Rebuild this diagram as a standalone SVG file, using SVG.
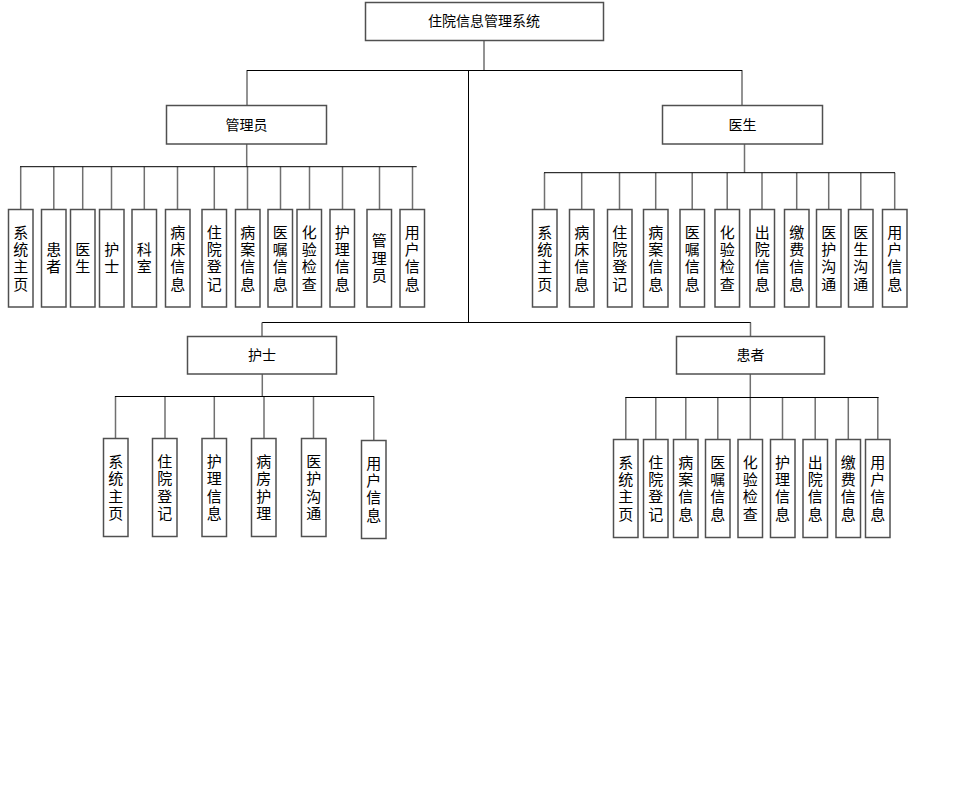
<svg xmlns="http://www.w3.org/2000/svg" width="956" height="785" viewBox="0 0 956 785">
<style>
.box{fill:#fff;stroke:#505050;stroke-width:1.5}
.bus{stroke:#000;stroke-width:1;fill:none}
.drop{stroke:#707070;stroke-width:1.5;fill:none}
text{font-family:"Liberation Sans","Noto Sans CJK SC",sans-serif;fill:#000;text-anchor:middle}
.h{font-size:14px}
.v{font-size:15px}
</style>
<rect width="956" height="785" fill="#fff"/>
<g id="connectors">
<path class="drop" d="M484 40V70M247 70V105M742 70V105"/>
<path class="bus" d="M247 70.5H742M468.5 70V322"/>
<path class="drop" d="M246.7 144V166.7M20.7 166.7V209M53.8 166.7V209M82.7 166.7V209M111.5 166.7V209M144.3 166.7V209M177.5 166.7V209M214.3 166.7V209M247.5 166.7V209M280.5 166.7V209M309.5 166.7V209M342.5 166.7V209M379.5 166.7V209M412.5 166.7V209"/>
<path class="bus" d="M20 166.7H416.7"/>
<path class="drop" d="M744.5 144V172.7M544.5 172.7V209M581.7 172.7V209M619.5 172.7V209M655.7 172.7V209M692.2 172.7V209M727.2 172.7V209M762 172.7V209M796.7 172.7V209M828.7 172.7V209M860.8 172.7V209M894.7 172.7V209"/>
<path class="bus" d="M544 172.7H895"/>
<path class="bus" d="M262 322.5H751"/>
<path class="drop" d="M262 322.5V336M750.5 322.5V336"/>
<path class="drop" d="M262.3 374V396M115.5 396V438M165 396V438M214.3 396V438M264 396V438M313.5 396V438M373.8 396V440"/>
<path class="bus" d="M115 396.5H374"/>
<path class="drop" d="M750.3 374V397M625.8 397V439M655.8 397V439M685.8 397V439M717.8 397V439M750.3 397V439M782.5 397V439M815.2 397V439M848.3 397V439M877.8 397V439"/>
<path class="bus" d="M625.5 397.5H878.5"/>
</g>
<g id="root"><rect class="box" x="365.5" y="2.5" width="238" height="38"/><text class="h" x="484" y="26">住院信息管理系统</text></g>
<g id="admin"><rect class="box" x="166.5" y="105.5" width="160" height="38.5"/><text class="h" x="246.5" y="130">管理员</text></g>
<g id="doctor"><rect class="box" x="662.5" y="105.5" width="160" height="38.5"/><text class="h" x="742.5" y="130">医生</text></g>
<g id="nurse"><rect class="box" x="187.5" y="336.5" width="149" height="37.5"/><text class="h" x="262" y="360">护士</text></g>
<g id="patient"><rect class="box" x="676.5" y="336.5" width="148" height="37.5"/><text class="h" x="750.5" y="360">患者</text></g>

<g id="a1"><rect class="box" x="8.5" y="209.5" width="24.5" height="97.5"/><text class="v"><tspan x="20.7" y="237.5">系</tspan><tspan x="20.7" y="255">统</tspan><tspan x="20.7" y="272.2">主</tspan><tspan x="20.7" y="289.5">页</tspan></text></g>
<g id="a2"><rect class="box" x="41.5" y="209.5" width="24.5" height="97.5"/><text class="v"><tspan x="53.8" y="255">患</tspan><tspan x="53.8" y="272.2">者</tspan></text></g>
<g id="a3"><rect class="box" x="70.5" y="209.5" width="24.5" height="97.5"/><text class="v"><tspan x="82.7" y="255">医</tspan><tspan x="82.7" y="272.2">生</tspan></text></g>
<g id="a4"><rect class="box" x="99.5" y="209.5" width="24.5" height="97.5"/><text class="v"><tspan x="111.7" y="255">护</tspan><tspan x="111.7" y="272.2">士</tspan></text></g>
<g id="a5"><rect class="box" x="132" y="209.5" width="24.5" height="97.5"/><text class="v"><tspan x="144.3" y="255">科</tspan><tspan x="144.3" y="272.2">室</tspan></text></g>
<g id="a6"><rect class="box" x="165.5" y="209.5" width="24.5" height="97.5"/><text class="v"><tspan x="177.7" y="237.5">病</tspan><tspan x="177.7" y="255">床</tspan><tspan x="177.7" y="272.2">信</tspan><tspan x="177.7" y="289.5">息</tspan></text></g>
<g id="a7"><rect class="box" x="202" y="209.5" width="24.5" height="97.5"/><text class="v"><tspan x="214.3" y="237.5">住</tspan><tspan x="214.3" y="255">院</tspan><tspan x="214.3" y="272.2">登</tspan><tspan x="214.3" y="289.5">记</tspan></text></g>
<g id="a8"><rect class="box" x="235.5" y="209.5" width="24.5" height="97.5"/><text class="v"><tspan x="247.7" y="237.5">病</tspan><tspan x="247.7" y="255">案</tspan><tspan x="247.7" y="272.2">信</tspan><tspan x="247.7" y="289.5">息</tspan></text></g>
<g id="a9"><rect class="box" x="268" y="209.5" width="24.5" height="97.5"/><text class="v"><tspan x="280.3" y="237.5">医</tspan><tspan x="280.3" y="255">嘱</tspan><tspan x="280.3" y="272.2">信</tspan><tspan x="280.3" y="289.5">息</tspan></text></g>
<g id="a10"><rect class="box" x="297" y="209.5" width="24.5" height="97.5"/><text class="v"><tspan x="309.3" y="237.5">化</tspan><tspan x="309.3" y="255">验</tspan><tspan x="309.3" y="272.2">检</tspan><tspan x="309.3" y="289.5">查</tspan></text></g>
<g id="a11"><rect class="box" x="330" y="209.5" width="24.5" height="97.5"/><text class="v"><tspan x="342.3" y="237.5">护</tspan><tspan x="342.3" y="255">理</tspan><tspan x="342.3" y="272.2">信</tspan><tspan x="342.3" y="289.5">息</tspan></text></g>
<g id="a12"><rect class="box" x="367" y="209.5" width="24.5" height="97.5"/><text class="v"><tspan x="379.3" y="246.2">管</tspan><tspan x="379.3" y="263.5">理</tspan><tspan x="379.3" y="280.8">员</tspan></text></g>
<g id="a13"><rect class="box" x="400" y="209.5" width="24.5" height="97.5"/><text class="v"><tspan x="412.3" y="237.5">用</tspan><tspan x="412.3" y="255">户</tspan><tspan x="412.3" y="272.2">信</tspan><tspan x="412.3" y="289.5">息</tspan></text></g>

<g id="d1"><rect class="box" x="532.5" y="209.5" width="24.5" height="97.5"/><text class="v"><tspan x="544.7" y="237.5">系</tspan><tspan x="544.7" y="255">统</tspan><tspan x="544.7" y="272.2">主</tspan><tspan x="544.7" y="289.5">页</tspan></text></g>
<g id="d2"><rect class="box" x="569.5" y="209.5" width="24.5" height="97.5"/><text class="v"><tspan x="581.7" y="237.5">病</tspan><tspan x="581.7" y="255">床</tspan><tspan x="581.7" y="272.2">信</tspan><tspan x="581.7" y="289.5">息</tspan></text></g>
<g id="d3"><rect class="box" x="607.5" y="209.5" width="24.5" height="97.5"/><text class="v"><tspan x="619.7" y="237.5">住</tspan><tspan x="619.7" y="255">院</tspan><tspan x="619.7" y="272.2">登</tspan><tspan x="619.7" y="289.5">记</tspan></text></g>
<g id="d4"><rect class="box" x="643.5" y="209.5" width="24.5" height="97.5"/><text class="v"><tspan x="655.7" y="237.5">病</tspan><tspan x="655.7" y="255">案</tspan><tspan x="655.7" y="272.2">信</tspan><tspan x="655.7" y="289.5">息</tspan></text></g>
<g id="d5"><rect class="box" x="680" y="209.5" width="24.5" height="97.5"/><text class="v"><tspan x="692.2" y="237.5">医</tspan><tspan x="692.2" y="255">嘱</tspan><tspan x="692.2" y="272.2">信</tspan><tspan x="692.2" y="289.5">息</tspan></text></g>
<g id="d6"><rect class="box" x="715" y="209.5" width="24.5" height="97.5"/><text class="v"><tspan x="727.2" y="237.5">化</tspan><tspan x="727.2" y="255">验</tspan><tspan x="727.2" y="272.2">检</tspan><tspan x="727.2" y="289.5">查</tspan></text></g>
<g id="d7"><rect class="box" x="750" y="209.5" width="24.5" height="97.5"/><text class="v"><tspan x="762.2" y="237.5">出</tspan><tspan x="762.2" y="255">院</tspan><tspan x="762.2" y="272.2">信</tspan><tspan x="762.2" y="289.5">息</tspan></text></g>
<g id="d8"><rect class="box" x="784.5" y="209.5" width="24.5" height="97.5"/><text class="v"><tspan x="796.7" y="237.5">缴</tspan><tspan x="796.7" y="255">费</tspan><tspan x="796.7" y="272.2">信</tspan><tspan x="796.7" y="289.5">息</tspan></text></g>
<g id="d9"><rect class="box" x="816.5" y="209.5" width="24.5" height="97.5"/><text class="v"><tspan x="828.7" y="237.5">医</tspan><tspan x="828.7" y="255">护</tspan><tspan x="828.7" y="272.2">沟</tspan><tspan x="828.7" y="289.5">通</tspan></text></g>
<g id="d10"><rect class="box" x="848.5" y="209.5" width="24.5" height="97.5"/><text class="v"><tspan x="860.8" y="237.5">医</tspan><tspan x="860.8" y="255">生</tspan><tspan x="860.8" y="272.2">沟</tspan><tspan x="860.8" y="289.5">通</tspan></text></g>
<g id="d11"><rect class="box" x="882.5" y="209.5" width="24.5" height="97.5"/><text class="v"><tspan x="894.7" y="237.5">用</tspan><tspan x="894.7" y="255">户</tspan><tspan x="894.7" y="272.2">信</tspan><tspan x="894.7" y="289.5">息</tspan></text></g>

<g id="n1"><rect class="box" x="103.5" y="438.5" width="24.5" height="98"/><text class="v"><tspan x="115.7" y="467">系</tspan><tspan x="115.7" y="484.3">统</tspan><tspan x="115.7" y="501.7">主</tspan><tspan x="115.7" y="519">页</tspan></text></g>
<g id="n2"><rect class="box" x="152.5" y="438.5" width="24.5" height="98"/><text class="v"><tspan x="164.8" y="467">住</tspan><tspan x="164.8" y="484.3">院</tspan><tspan x="164.8" y="501.7">登</tspan><tspan x="164.8" y="519">记</tspan></text></g>
<g id="n3"><rect class="box" x="202" y="438.5" width="24.5" height="98"/><text class="v"><tspan x="214.3" y="467">护</tspan><tspan x="214.3" y="484.3">理</tspan><tspan x="214.3" y="501.7">信</tspan><tspan x="214.3" y="519">息</tspan></text></g>
<g id="n4"><rect class="box" x="251.5" y="438.5" width="24.5" height="98"/><text class="v"><tspan x="263.8" y="467">病</tspan><tspan x="263.8" y="484.3">房</tspan><tspan x="263.8" y="501.7">护</tspan><tspan x="263.8" y="519">理</tspan></text></g>
<g id="n5"><rect class="box" x="301.5" y="438.5" width="24.5" height="98"/><text class="v"><tspan x="313.7" y="467">医</tspan><tspan x="313.7" y="484.3">护</tspan><tspan x="313.7" y="501.7">沟</tspan><tspan x="313.7" y="519">通</tspan></text></g>
<g id="n6"><rect class="box" x="361.5" y="440.5" width="24.5" height="98"/><text class="v"><tspan x="373.8" y="468.5">用</tspan><tspan x="373.8" y="485.8">户</tspan><tspan x="373.8" y="503.2">信</tspan><tspan x="373.8" y="520.5">息</tspan></text></g>

<g id="p1"><rect class="box" x="613.5" y="439.5" width="24.5" height="98"/><text class="v"><tspan x="625.8" y="467.5">系</tspan><tspan x="625.8" y="484.8">统</tspan><tspan x="625.8" y="502.2">主</tspan><tspan x="625.8" y="519.5">页</tspan></text></g>
<g id="p2"><rect class="box" x="643.5" y="439.5" width="24.5" height="98"/><text class="v"><tspan x="655.8" y="467.5">住</tspan><tspan x="655.8" y="484.8">院</tspan><tspan x="655.8" y="502.2">登</tspan><tspan x="655.8" y="519.5">记</tspan></text></g>
<g id="p3"><rect class="box" x="673.5" y="439.5" width="24.5" height="98"/><text class="v"><tspan x="685.8" y="467.5">病</tspan><tspan x="685.8" y="484.8">案</tspan><tspan x="685.8" y="502.2">信</tspan><tspan x="685.8" y="519.5">息</tspan></text></g>
<g id="p4"><rect class="box" x="705.5" y="439.5" width="24.5" height="98"/><text class="v"><tspan x="717.8" y="467.5">医</tspan><tspan x="717.8" y="484.8">嘱</tspan><tspan x="717.8" y="502.2">信</tspan><tspan x="717.8" y="519.5">息</tspan></text></g>
<g id="p5"><rect class="box" x="738" y="439.5" width="24.5" height="98"/><text class="v"><tspan x="750.3" y="467.5">化</tspan><tspan x="750.3" y="484.8">验</tspan><tspan x="750.3" y="502.2">检</tspan><tspan x="750.3" y="519.5">查</tspan></text></g>
<g id="p6"><rect class="box" x="770.5" y="439.5" width="24.5" height="98"/><text class="v"><tspan x="782.5" y="467.5">护</tspan><tspan x="782.5" y="484.8">理</tspan><tspan x="782.5" y="502.2">信</tspan><tspan x="782.5" y="519.5">息</tspan></text></g>
<g id="p7"><rect class="box" x="803" y="439.5" width="24.5" height="98"/><text class="v"><tspan x="815.2" y="467.5">出</tspan><tspan x="815.2" y="484.8">院</tspan><tspan x="815.2" y="502.2">信</tspan><tspan x="815.2" y="519.5">息</tspan></text></g>
<g id="p8"><rect class="box" x="836" y="439.5" width="24.5" height="98"/><text class="v"><tspan x="848.3" y="467.5">缴</tspan><tspan x="848.3" y="484.8">费</tspan><tspan x="848.3" y="502.2">信</tspan><tspan x="848.3" y="519.5">息</tspan></text></g>
<g id="p9"><rect class="box" x="865.5" y="439.5" width="24.5" height="98"/><text class="v"><tspan x="877.8" y="467.5">用</tspan><tspan x="877.8" y="484.8">户</tspan><tspan x="877.8" y="502.2">信</tspan><tspan x="877.8" y="519.5">息</tspan></text></g>
</svg>
